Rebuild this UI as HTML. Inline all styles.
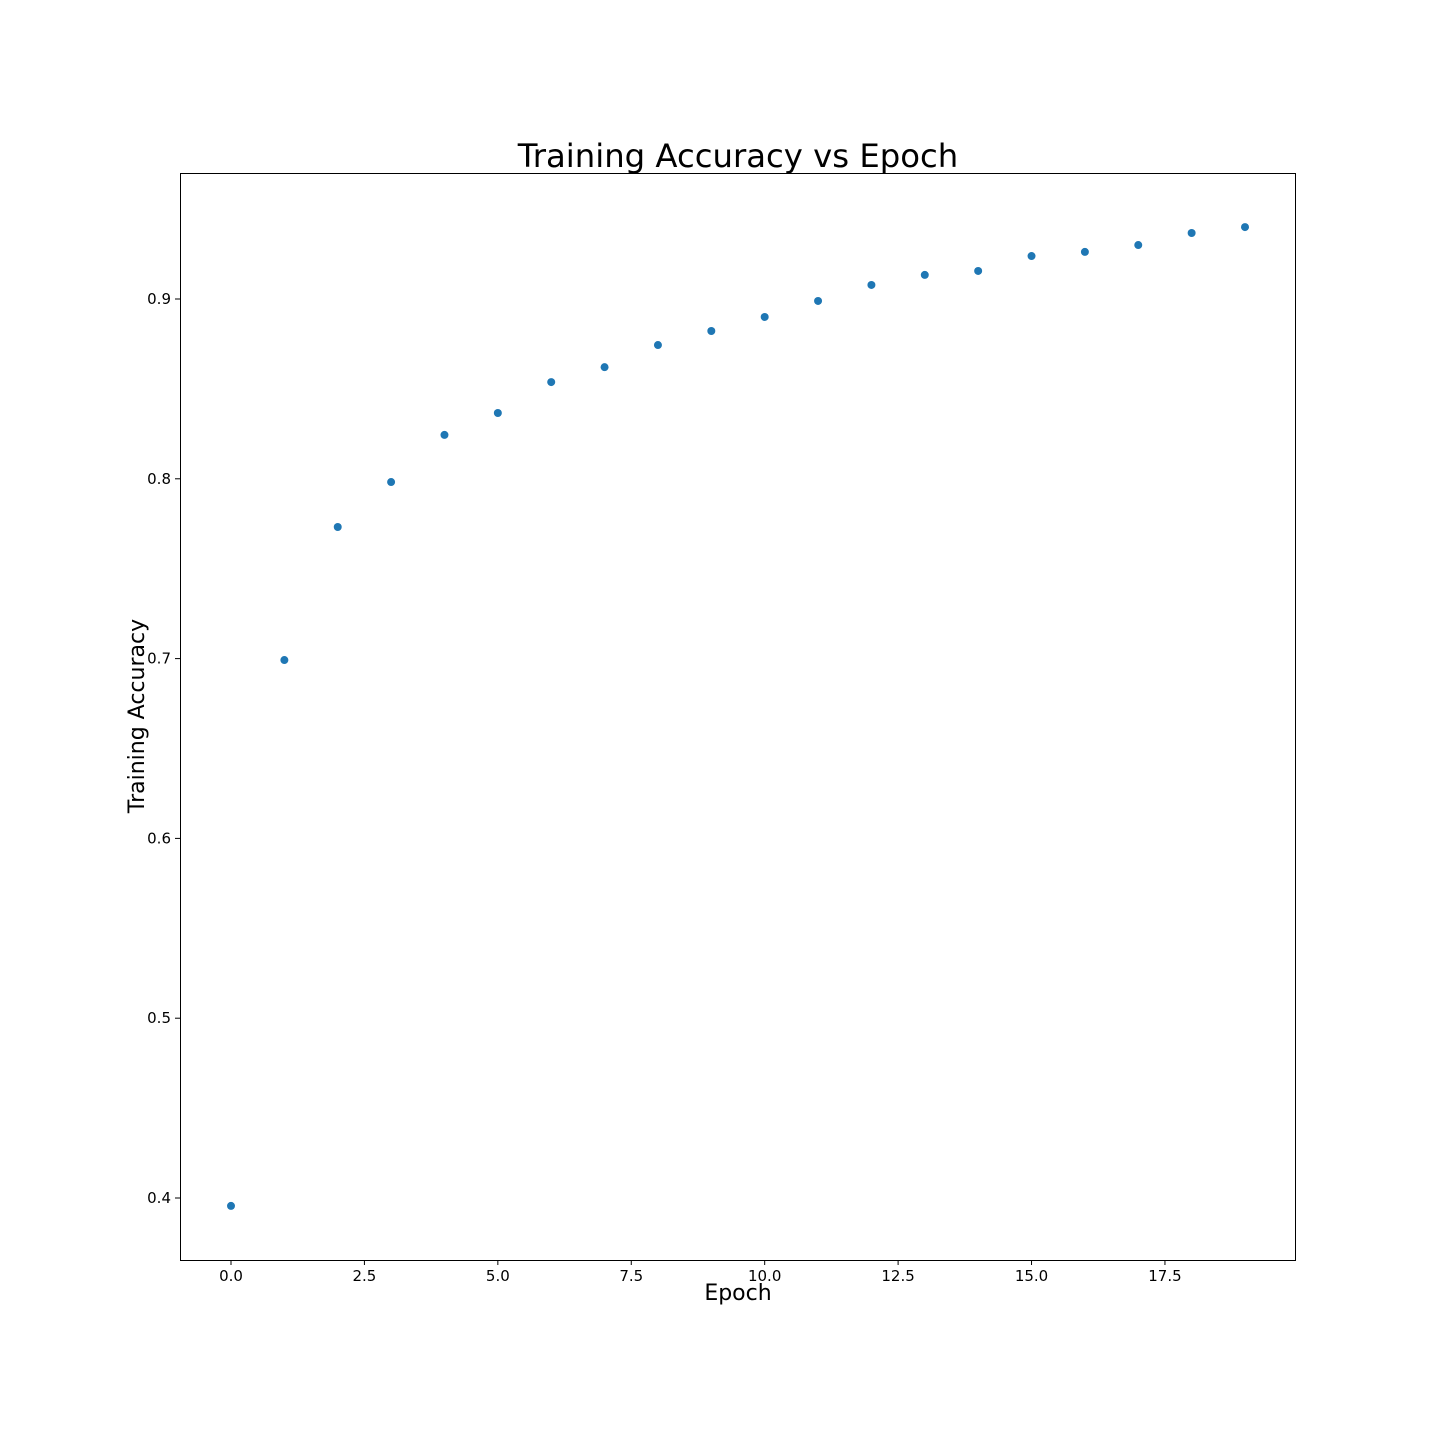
<!DOCTYPE html>
<html><head><meta charset="utf-8"><style>
html,body{margin:0;padding:0;background:#fff;}
svg text{font-family:"DejaVu Sans","Liberation Sans",sans-serif;fill:#000;}
</style></head><body>
<svg id="chart" width="1440" height="1440" xmlns="http://www.w3.org/2000/svg">
<rect width="1440" height="1440" fill="#fff"/>
<text x="738" y="167" font-size="32.3" text-anchor="middle">Training Accuracy vs Epoch</text>
<text x="738" y="1300" font-size="22" text-anchor="middle">Epoch</text>
<text transform="translate(144,716) rotate(-90)" font-size="22" text-anchor="middle">Training Accuracy</text>
<g id="ticks"></g>
<g id="points"></g>
<rect x="180.5" y="173.5" width="1115" height="1087" fill="none" stroke="#000" stroke-width="1"/>
</svg>
<script>
const epochs = [0,1,2,3,4,5,6,7,8,9,10,11,12,13,14,15,16,17,18,19];
const accuracy = [0.3956,0.6992,0.7732,0.7982,0.8244,0.8366,0.8538,0.8621,0.8744,0.8822,0.8900,0.8989,0.9078,0.9134,0.9156,0.9239,0.9262,0.9300,0.9367,0.9400];
const xTicks = [0,2.5,5,7.5,10,12.5,15,17.5];
const xTickLabels = ["0.0","2.5","5.0","7.5","10.0","12.5","15.0","17.5"];
const yTicks = [0.4,0.5,0.6,0.7,0.8,0.9];
const yTickLabels = ["0.4","0.5","0.6","0.7","0.8","0.9"];

const NS="http://www.w3.org/2000/svg";
function xs(v){return 231 + v*(1245-231)/19;}
function ys(v){return 1198 - (v-0.4)*(1198-299)/0.5;}
const tg=document.getElementById('ticks');
const pg=document.getElementById('points');
xTicks.forEach((t,i)=>{
  const l=document.createElementNS(NS,'line');
  l.setAttribute('x1',xs(t));l.setAttribute('x2',xs(t));l.setAttribute('y1',1260);l.setAttribute('y2',1265);
  l.setAttribute('stroke','#000');
  
  
  tg.appendChild(l);
  const tx=document.createElementNS(NS,'text');
  tx.setAttribute('x',xs(t));tx.setAttribute('y',1281);tx.setAttribute('font-size','15');tx.setAttribute('text-anchor','middle');
  tx.textContent=xTickLabels[i];
  
  
  tg.appendChild(tx);
});
yTicks.forEach((t,i)=>{
  const l=document.createElementNS(NS,'line');
  l.setAttribute('x1',175);l.setAttribute('x2',180);l.setAttribute('y1',ys(t));l.setAttribute('y2',ys(t));
  l.setAttribute('stroke','#000');
  
  
  tg.appendChild(l);
  const tx=document.createElementNS(NS,'text');
  tx.setAttribute('x',171);tx.setAttribute('y',ys(t)+5);tx.setAttribute('font-size','15');tx.setAttribute('text-anchor','end');
  tx.textContent=yTickLabels[i];
  
  
  tg.appendChild(tx);
});
epochs.forEach((e,i)=>{
  const c=document.createElementNS(NS,'circle');
  c.setAttribute('cx',xs(e));c.setAttribute('cy',ys(accuracy[i]));c.setAttribute('r',4);c.setAttribute('fill','#1f77b4');
  
  
  pg.appendChild(c);
});
</script>
</body></html>
